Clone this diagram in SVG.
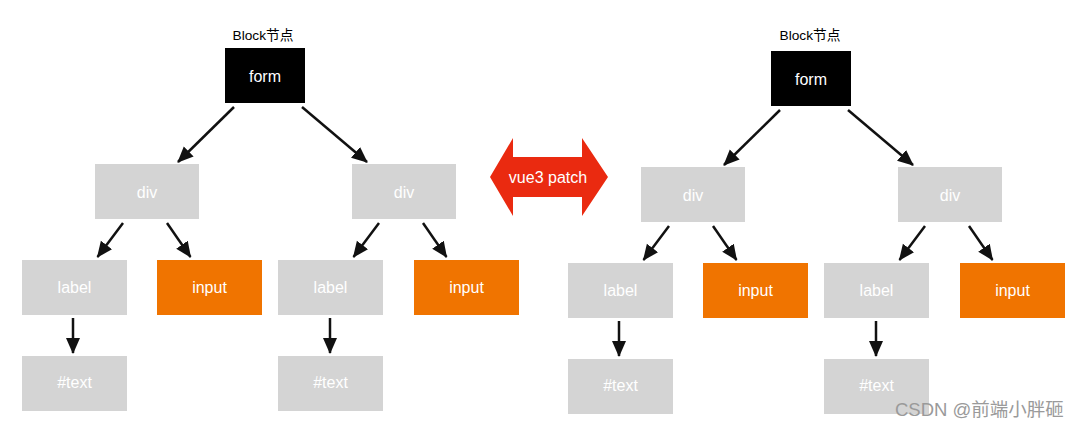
<svg xmlns="http://www.w3.org/2000/svg" width="1082" height="429" viewBox="0 0 1082 429">
<style>
.g{fill:#d4d4d4}
.o{fill:#f07400}
.b{fill:#000}
.t{font-family:"Liberation Sans",Arial,sans-serif;font-size:16px;fill:#fff;text-anchor:middle;dominant-baseline:central}
.cap{font-family:"Liberation Sans","Noto Sans CJK SC",sans-serif;font-size:13.7px;fill:#000;text-anchor:middle;dominant-baseline:central}
.c line{stroke:#111;stroke-width:2.5;marker-end:url(#ah)}
</style>
<defs>
<marker id="ah" markerUnits="userSpaceOnUse" markerWidth="18" markerHeight="16" refX="15" refY="7" orient="auto">
<path d="M0,0 L16,7 L0,14 z" fill="#111"/>
</marker>
</defs>
<rect width="1082" height="429" fill="#fff"/>

<g id="left-tree">
<text class="cap" x="263" y="35">Block节点</text>
<g id="L-form"><rect class="b" x="225" y="48" width="80" height="55"/><text class="t" x="265" y="76">form</text></g>
<g id="L-div1"><rect class="g" x="95" y="164" width="104" height="55"/><text class="t" x="147" y="192">div</text></g>
<g id="L-div2"><rect class="g" x="352" y="164" width="104" height="55"/><text class="t" x="404" y="192">div</text></g>
<g id="L-label1"><rect class="g" x="22" y="260" width="105" height="55"/><text class="t" x="74.5" y="287">label</text></g>
<g id="L-input1"><rect class="o" x="157" y="260" width="105" height="55"/><text class="t" x="209.5" y="287">input</text></g>
<g id="L-label2"><rect class="g" x="278" y="260" width="105" height="55"/><text class="t" x="330.5" y="287">label</text></g>
<g id="L-input2"><rect class="o" x="414" y="260" width="105" height="55"/><text class="t" x="466.5" y="287">input</text></g>
<g id="L-text1"><rect class="g" x="22" y="356" width="105" height="55"/><text class="t" x="74.5" y="382">#text</text></g>
<g id="L-text2"><rect class="g" x="278" y="356" width="105" height="55"/><text class="t" x="330.5" y="382">#text</text></g>
</g>

<g id="right-tree">
<text class="cap" x="810" y="35">Block节点</text>
<g id="R-form"><rect class="b" x="771" y="51" width="80" height="55"/><text class="t" x="811" y="79">form</text></g>
<g id="R-div1"><rect class="g" x="641" y="167" width="104" height="55"/><text class="t" x="693" y="195">div</text></g>
<g id="R-div2"><rect class="g" x="898" y="167" width="104" height="55"/><text class="t" x="950" y="195">div</text></g>
<g id="R-label1"><rect class="g" x="568" y="263" width="105" height="55"/><text class="t" x="620.5" y="290">label</text></g>
<g id="R-input1"><rect class="o" x="703" y="263" width="105" height="55"/><text class="t" x="755.5" y="290">input</text></g>
<g id="R-label2"><rect class="g" x="824" y="263" width="105" height="55"/><text class="t" x="876.5" y="290">label</text></g>
<g id="R-input2"><rect class="o" x="960" y="263" width="105" height="55"/><text class="t" x="1012.5" y="290">input</text></g>
<g id="R-text1"><rect class="g" x="568" y="359" width="105" height="55"/><text class="t" x="620.5" y="385">#text</text></g>
<g id="R-text2"><rect class="g" x="824" y="359" width="105" height="55"/><text class="t" x="876.5" y="385">#text</text></g>
</g>

<g id="connectors" class="c">
<line x1="234" y1="107" x2="178" y2="162"/>
<line x1="302" y1="107" x2="367" y2="162"/>
<line x1="123" y1="223" x2="97.5" y2="257"/>
<line x1="167" y1="223" x2="190.5" y2="257"/>
<line x1="379" y1="223" x2="353.5" y2="257"/>
<line x1="423" y1="223" x2="446.5" y2="257"/>
<line x1="73" y1="318" x2="73" y2="353"/>
<line x1="330" y1="318" x2="330" y2="353"/>
<line x1="780" y1="110" x2="724" y2="165"/>
<line x1="848" y1="110" x2="913" y2="165"/>
<line x1="669" y1="226" x2="643.5" y2="260"/>
<line x1="713" y1="226" x2="736.5" y2="260"/>
<line x1="925" y1="226" x2="899.5" y2="260"/>
<line x1="969" y1="226" x2="992.5" y2="260"/>
<line x1="619" y1="321" x2="619" y2="356"/>
<line x1="876" y1="321" x2="876" y2="356"/>
</g>

<g id="patch">
<polygon points="490,177 513,138 513,157 582,157 582,138 608,177 582,216 582,197 513,197 513,216" fill="#ea2a10"/>
<text class="t" x="548" y="177">vue3 patch</text>
</g>

<text x="895" y="416" font-family="'Liberation Sans','Noto Sans CJK SC',sans-serif" font-size="18.5" fill="#9a9a9a">CSDN @前端小胖砸</text>
</svg>
